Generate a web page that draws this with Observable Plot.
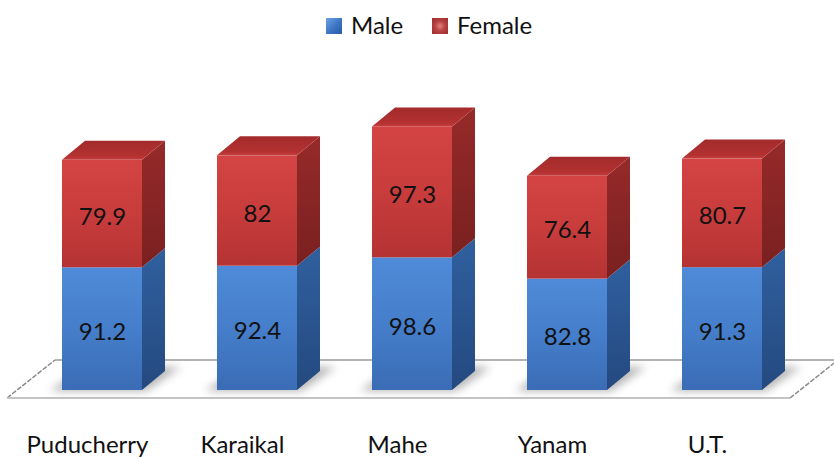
<!DOCTYPE html>
<html><head><meta charset="utf-8">
<script src="https://cdn.jsdelivr.net/npm/d3@7"></script>
<script src="https://cdn.jsdelivr.net/npm/@observablehq/plot@0.6"></script>
<style>
body{margin:0;background:#fff;font-family:Lato,sans-serif;}
#legend{position:relative;height:50px;width:834px;}
.sw{position:absolute;top:18px;width:16px;height:16px;}
.lb{position:absolute;top:13px;font-size:24px;line-height:24px;color:#111;}
</style></head><body>
<div id="legend"></div>
<div id="chart"></div>
<script>
const regions = ["Puducherry", "Karaikal", "Mahe", "Yanam", "U.T."];
const male = [91.2, 92.4, 98.6, 82.8, 91.3];
const female = [79.9, 82, 97.3, 76.4, 80.7];
const series = ["Male", "Female"];

const rows = regions.flatMap((r, i) => [
  {region: r, sex: "Male", value: male[i], lo: 0, hi: male[i]},
  {region: r, sex: "Female", value: female[i], lo: male[i], hi: male[i] + female[i]}
]);
const maleRows = rows.filter(d => d.sex === "Male");
const femaleRows = rows.filter(d => d.sex === "Female");

// legend
const legend = d3.select("#legend");
const swatch = {
  Male: "linear-gradient(135deg,#6fa3e6 0%,#3b74c4 55%,#2a5aa3 100%)",
  Female: "radial-gradient(circle,#e08080 0%,#b84040 45%,#9a2e2e 100%)"
};
const legPos = {Male: [326, 351], Female: [432, 457]};
for (const s of series) {
  legend.append("span").attr("class", "sw").style("left", legPos[s][0] + "px").style("background", swatch[s]);
  legend.append("span").attr("class", "lb").style("left", legPos[s][1] + "px").text(s);
}

const DX = 23, DY = -19;

function faces(sideId, topId, withTop) {
  return function(index, scales, values, dimensions, context, next) {
    const g = next(index, scales, values, dimensions, context);
    const bw = scales.x.bandwidth();
    const sel = d3.select(g);
    for (const i of index) {
      const x0 = values.x[i], x1 = x0 + bw;
      const yT = Math.min(values.y1[i], values.y2[i]);
      const yB = Math.max(values.y1[i], values.y2[i]);
      sel.append("path")
        .attr("d", `M${x1},${yB}L${x1 + DX},${yB + DY}L${x1 + DX},${yT + DY}L${x1},${yT}Z`)
        .attr("fill", `url(#${sideId})`);
      if (withTop) {
        sel.append("path")
          .attr("d", `M${x0},${yT}L${x0 + DX},${yT + DY}L${x1 + DX},${yT + DY}L${x1},${yT}Z`)
          .attr("fill", `url(#${topId})`);
      }
    }
    return g;
  };
}

function floor(index, scales) {
  const [r0, r1] = scales.x.range();
  const y0 = scales.y(0);
  const fl = r0 - 53, fr = r1 + 26, fy = y0 + 8, bx = 48, by = -38;
  const g = d3.create("svg:g");
  g.append("path")
    .attr("d", `M${fl},${fy}L${fr},${fy}L${fr + bx},${fy + by}L${fl + bx},${fy + by}Z`)
    .attr("fill", "#fff");
  g.append("path")
    .attr("d", `M${fl + bx},${fy + by}L${fr + bx},${fy + by}`)
    .attr("stroke", "#b4b4b4").attr("stroke-width", 2).attr("fill", "none");
  g.append("path")
    .attr("d", `M${fl},${fy}L${fl + bx},${fy + by}M${fr},${fy}L${fr + bx},${fy + by}`)
    .attr("stroke", "#8a8a8a").attr("stroke-width", 1.5).attr("stroke-dasharray", "5,1.5").attr("fill", "none");
  g.append("path")
    .attr("d", `M${fl},${fy}L${fr},${fy}`)
    .attr("stroke", "#c4c4c4").attr("stroke-width", 2).attr("fill", "none");
  return g.node();
}

function shadows(index, scales) {
  const bw = scales.x.bandwidth();
  const y0 = scales.y(0);
  const g = d3.create("svg:g").attr("filter", "url(#blur)").attr("opacity", 0.55);
  for (const r of regions) {
    const x0 = scales.x(r), x1 = x0 + bw;
    g.append("path")
      .attr("d", `M${x0 - 12},${y0 + 1}L${x1 + 4},${y0 + 1}L${x1 + DX + 16},${y0 + DY - 4}L${x0 + DX},${y0 + DY - 4}Z`)
      .attr("fill", "#777");
  }
  return g.node();
}

const plot = Plot.plot({
  width: 834,
  height: 407,
  marginTop: 44,
  marginBottom: 67,
  marginLeft: 60,
  marginRight: 70,
  style: {fontFamily: "Lato, sans-serif", background: "#fff"},
  x: {domain: regions, paddingInner: 0.487, paddingOuter: 0, axis: null, label: null},
  y: {domain: [0, 220], axis: null},
  marks: [
    floor,
    shadows,
    Plot.barY(maleRows, {x: "region", y1: "lo", y2: "hi", fill: "url(#maleFront)", render: faces("maleSide", "maleTop", false)}),
    Plot.barY(femaleRows, {x: "region", y1: "lo", y2: "hi", fill: "url(#femaleFront)", render: faces("femaleSide", "femaleTop", true)}),
    Plot.text(rows, {x: "region", y: d => (d.lo + d.hi) / 2, text: d => String(d.value), fontSize: 24, dy: 3, fill: "#111"}),
    Plot.axisX({tickSize: 0, tickPadding: 45, fontSize: 24, dx: -15, fill: "#111", label: null})
  ]
});

d3.select(plot).insert("defs", ":first-child").html(`
  <linearGradient id="maleFront" x1="0" y1="0" x2="0" y2="1">
    <stop offset="0" stop-color="#4f8bd8"/><stop offset="0.5" stop-color="#457ecb"/><stop offset="1" stop-color="#3a6cb4"/>
  </linearGradient>
  <linearGradient id="maleSide" x1="0" y1="0" x2="0" y2="1">
    <stop offset="0" stop-color="#30609f"/><stop offset="1" stop-color="#24497f"/>
  </linearGradient>
  <linearGradient id="maleTop" x1="0" y1="0" x2="0" y2="1">
    <stop offset="0" stop-color="#3a6cb4"/><stop offset="1" stop-color="#4f8bd8"/>
  </linearGradient>
  <linearGradient id="femaleFront" x1="0" y1="0" x2="0" y2="1">
    <stop offset="0" stop-color="#d44444"/><stop offset="0.5" stop-color="#c83c3c"/><stop offset="1" stop-color="#b53333"/>
  </linearGradient>
  <linearGradient id="femaleSide" x1="0" y1="0" x2="0" y2="1">
    <stop offset="0" stop-color="#962a2a"/><stop offset="1" stop-color="#7a2020"/>
  </linearGradient>
  <linearGradient id="femaleTop" x1="0" y1="0" x2="0" y2="1">
    <stop offset="0" stop-color="#a32b2b"/><stop offset="0.8" stop-color="#b33131"/><stop offset="1" stop-color="#c53c3c"/>
  </linearGradient>
  <filter id="blur" x="-30%" y="-100%" width="160%" height="300%"><feGaussianBlur stdDeviation="4"/></filter>
`);

document.getElementById("chart").appendChild(plot);
</script>
</body></html>
